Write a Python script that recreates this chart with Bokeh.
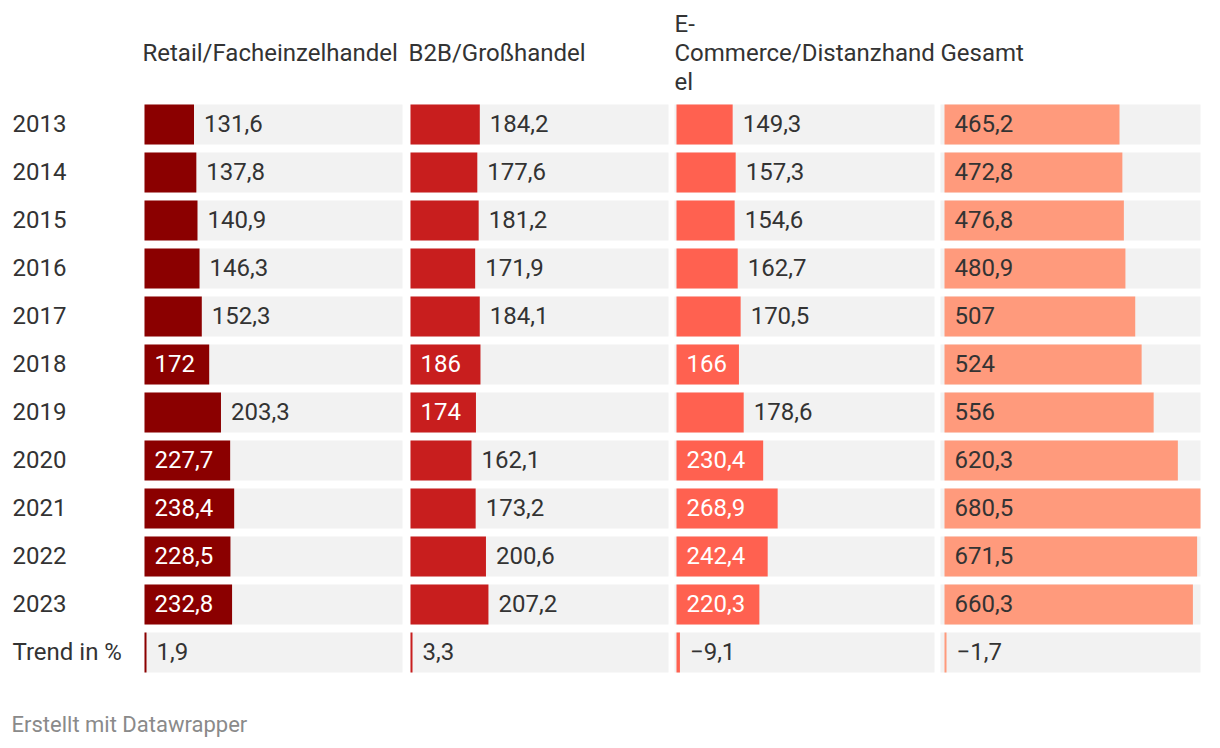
from bokeh.plotting import figure
from bokeh.models import Range1d
from bokeh.core.properties import value
from bokeh.embed import file_html
from bokeh.resources import INLINE

# ---------------- data ----------------
years = ["2013", "2014", "2015", "2016", "2017", "2018", "2019", "2020", "2021", "2022", "2023"]
retail = [131.6, 137.8, 140.9, 146.3, 152.3, 172, 203.3, 227.7, 238.4, 228.5, 232.8]
b2b = [184.2, 177.6, 181.2, 171.9, 184.1, 186, 174, 162.1, 173.2, 200.6, 207.2]
ecommerce = [149.3, 157.3, 154.6, 162.7, 170.5, 166, 178.6, 230.4, 268.9, 242.4, 220.3]
gesamt = [465.2, 472.8, 476.8, 480.9, 507, 524, 556, 620.3, 680.5, 671.5, 660.3]
trend_label = "Trend in %"
trend = [1.9, 3.3, -9.1, -1.7]
header_lines = [["Retail/Facheinzelhandel"], ["B2B/Großhandel"],
                ["E-", "Commerce/Distanzhand", "el"], ["Gesamt"]]
footer = "Erstellt mit Datawrapper"

# ---------------- style ----------------
FONT = value("Roboto")
FS = 24
colors = ["#8b0000", "#c81e1e", "#ff6150", "#ff9a7c"]
inside_text = ["#ffffff", "#ffffff", "#ffffff", "#333333"]
TXT = "#333333"
BG = "#f2f2f2"
W, H = 1220, 748
CELL_X0 = [144, 410, 674, 940]
BAR_X0 = [144, 410, 676, 944]
CELL_X1 = [402, 668, 934, 1200]
HEAD_X = [142, 408, 674, 940]
ROW_Y0 = 124
ROW_STEP = 48
ROW_H = 40
PAD = 10
TXT_DY = -1

series = [retail, b2b, ecommerce, gesamt]
vmax = max(max(s) for s in series)
k = (CELL_X1[3] - BAR_X0[3]) / vmax


def fmt(v):
    s = f"{v:g}".replace(".", ",")
    return s.replace("-", "\u2212")


def est_w(s):
    w = 0
    for ch in s:
        w += 0.2 * FS if ch == "," else 0.5615 * FS
    return w


p = figure(width=W, height=H, x_range=Range1d(0, W), y_range=Range1d(H, 0),
           output_backend="svg", toolbar_location=None, min_border=0,
           background_fill_color="white", border_fill_color="white", outline_line_color=None)
p.xaxis.visible = False
p.yaxis.visible = False
p.xgrid.visible = False
p.ygrid.visible = False

n_rows = len(years) + 1
row_labels = years + [trend_label]
row_y = [ROW_Y0 + i * ROW_STEP for i in range(n_rows)]

# background cells
bg_y, bg_l, bg_r = [], [], []
for c in range(4):
    for y in row_y:
        bg_y.append(y)
        bg_l.append(CELL_X0[c])
        bg_r.append(CELL_X1[c])
p.hbar(y=bg_y, left=bg_l, right=bg_r, height=ROW_H, fill_color=BG, line_color=None)

# bars + labels
by, bl, br, bc = [], [], [], []
tx, ty, tt, tc = [], [], [], []
for c, s in enumerate(series):
    x0 = BAR_X0[c]
    for i, v in enumerate(s):
        px = v * k
        by.append(row_y[i]); bl.append(x0); br.append(x0 + px); bc.append(colors[c])
        lab = fmt(v)
        if px >= 1.4 * est_w(lab):
            tx.append(x0 + PAD); tc.append(inside_text[c])
        else:
            tx.append(x0 + px + PAD); tc.append(TXT)
        ty.append(row_y[i] + TXT_DY); tt.append(lab)
    # trend row
    tv = trend[c]
    tpx = max(abs(tv) * k, 2)
    by.append(row_y[-1]); bl.append(x0); br.append(x0 + tpx); bc.append(colors[c])
    tx.append(x0 + tpx + PAD); ty.append(row_y[-1] + TXT_DY); tt.append(fmt(tv)); tc.append(TXT)

p.hbar(y=by, left=bl, right=br, height=ROW_H, fill_color=bc, line_color=None)
p.text(x=tx, y=ty, text=tt, text_color=tc, text_font=FONT, text_font_size=f"{FS}px",
       text_baseline="middle", text_align="left")

# row labels
p.text(x=[12] * n_rows, y=[y + TXT_DY for y in row_y], text=row_labels, text_color=TXT,
       text_font=FONT, text_font_size=f"{FS}px", text_baseline="middle", text_align="left")

# headers
hx, hy, ht = [], [], []
for c, lines in enumerate(header_lines):
    n = len(lines)
    for j, ln in enumerate(lines):
        hx.append(HEAD_X[c])
        hy.append(52 + (j - (n - 1) / 2) * 29)
        ht.append(ln)
p.text(x=hx, y=hy, text=ht, text_color=TXT, text_font=FONT, text_font_size=f"{FS}px",
       text_baseline="middle", text_align="left")

# footer
p.text(x=[11], y=[724], text=[footer], text_color="#8a8a8a", text_font=FONT,
       text_font_size="22px", text_baseline="middle", text_align="left")

open("out.html", "w").write(file_html(p, INLINE))
